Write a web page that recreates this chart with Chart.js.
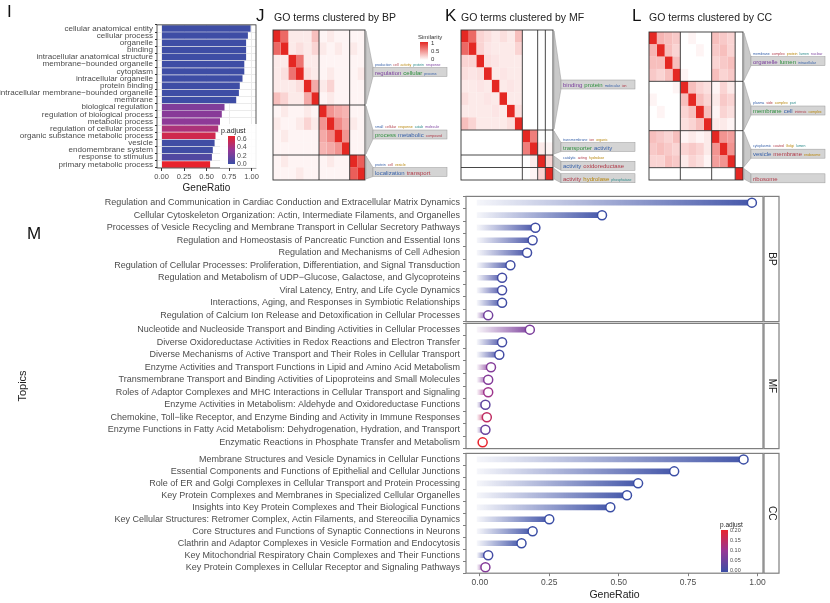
<!DOCTYPE html>
<html>
<head>
<meta charset="utf-8">
<script src="https://cdn.jsdelivr.net/npm/chart.js@4.4.1/dist/chart.umd.min.js"></script>
<style>
  body { margin: 0; background: #fff; font-family: "Liberation Sans", Arial, sans-serif; }
  #wrap { position: relative; width: 830px; height: 603px; overflow: hidden; }
  canvas, .txt { position: absolute; }
  .letter { font-size: 17px; color: #111; }
  .title { font-size: 10.5px; color: #222; }
</style>
</head>
<body>
<div id="wrap">
  <canvas id="cI" style="left:0;top:18px" width="262" height="180"></canvas>
  <canvas id="cJ" style="left:262px;top:22px" width="188" height="162"></canvas>
  <canvas id="cK" style="left:450px;top:22px" width="188" height="162"></canvas>
  <canvas id="cL" style="left:638px;top:22px" width="190" height="162"></canvas>
  <canvas id="cBP" style="left:0;top:188px" width="780" height="142"></canvas>
  <canvas id="cMF" style="left:0;top:315px" width="780" height="142"></canvas>
  <canvas id="cCC" style="left:0;top:445px" width="780" height="158"></canvas>
  <div class="txt letter" style="left:7px;top:2px">I</div>
  <div class="txt letter" style="left:256px;top:6px">J</div>
  <div class="txt letter" style="left:445px;top:6px">K</div>
  <div class="txt letter" style="left:632px;top:6px">L</div>
  <div class="txt letter" style="left:27px;top:224px">M</div>
  <div class="txt title" style="left:274px;top:11px">GO terms clustered by BP</div>
  <div class="txt title" style="left:461px;top:11px">GO terms clustered by MF</div>
  <div class="txt title" style="left:649px;top:11px">GO terms clustered by CC</div>
</div>
<script>
// ---------- panel I data ----------
const goTerms = ["cellular anatomical entity", "cellular process", "organelle", "binding",
  "intracellular anatomical structure", "membrane\u2212bounded organelle", "cytoplasm",
  "intracellular organelle", "protein binding", "intracellular membrane\u2212bounded organelle",
  "membrane", "biological regulation", "regulation of biological process", "metabolic process",
  "regulation of cellular process", "organic substance metabolic process", "vesicle",
  "endomembrane system", "response to stimulus", "primary metabolic process"];
const goRatio = [0.99, 0.96, 0.94, 0.94, 0.94, 0.92, 0.92, 0.90, 0.87, 0.86,
  0.83, 0.70, 0.67, 0.65, 0.63, 0.60, 0.59, 0.57, 0.56, 0.54];
const goPadj = [0.01, 0.01, 0.01, 0.01, 0.01, 0.01, 0.01, 0.01, 0.01, 0.01,
  0.01, 0.25, 0.28, 0.30, 0.42, 0.56, 0.02, 0.02, 0.08, 0.66];

// ---------- panel J/K/L data (similarity matrices, coarse) ----------
const simBP = [
  [1,.7,.1,.1,.1,.3,.05,.1,.05,.05,.05,.05],
  [.7,1,.1,.15,.1,.2,.1,.05,.1,.05,.1,.05],
  [.1,.1,1,.65,.1,.1,.05,.05,.05,.05,.05,.05],
  [.1,.15,.65,1,.15,.1,.05,.1,.05,.05,.05,.1],
  [.1,.1,.1,.15,1,.4,.1,.2,.05,.05,.05,.05],
  [.3,.2,.1,.1,.4,1,.05,.1,.05,.05,.05,.05],
  [.05,.1,.05,.05,.1,.05,1,.5,.4,.35,.05,.05],
  [.1,.05,.05,.1,.2,.1,.5,1,.55,.4,.1,.05],
  [.05,.1,.05,.05,.05,.05,.4,.55,1,.5,.05,.05],
  [.05,.05,.05,.05,.05,.05,.35,.4,.5,1,.05,.05],
  [.05,.1,.05,.05,.05,.05,.05,.1,.05,.05,1,.75],
  [.05,.05,.05,.1,.05,.05,.05,.05,.05,.05,.75,1]];
const simMF = [
  [1,.7,.2,.15,.1,.15,.1,.3,0,0,0,0],
  [.7,1,.2,.12,.1,.1,.1,.2,0,0,0,0],
  [.2,.2,1,.15,.12,.1,.1,.1,0,0,0,0],
  [.15,.12,.15,1,.1,.12,.1,.1,0,0,0,0],
  [.1,.1,.12,.1,1,.1,.12,.1,0,0,0,0],
  [.15,.1,.1,.12,.1,1,.1,.1,0,0,0,0],
  [.1,.1,.1,.1,.12,.1,1,.15,0,0,0,0],
  [.3,.2,.1,.1,.1,.1,.15,1,0,0,0,0],
  [0,0,0,0,0,0,0,0,1,.6,0,0],
  [0,0,0,0,0,0,0,0,.6,1,.1,.05],
  [0,0,0,0,0,0,0,0,0,.1,1,.2],
  [0,0,0,0,0,0,0,0,0,.05,.2,1]];
const simCC = [
  [1,.35,.3,.25,0,.05,0,0,.3,.25,.2,0],
  [.35,1,.3,.2,0,0,.05,0,.25,.3,.2,0],
  [.3,.3,1,.3,0,0,0,0,.2,.25,.3,0],
  [.25,.2,.3,1,.05,0,0,0,.3,.2,.25,0],
  [0,0,0,.05,1,.3,.2,.15,.05,.2,.1,0],
  [.05,0,0,0,.3,1,.3,.2,.1,.25,.2,0],
  [0,.05,0,0,.2,.3,1,.3,.05,.2,.15,0],
  [0,0,0,0,.15,.2,.3,1,.1,.1,.05,0],
  [.3,.25,.2,.3,.05,.1,.05,.1,1,.5,.45,0],
  [.25,.3,.25,.2,.2,.25,.2,.1,.5,1,.5,0],
  [.2,.2,.3,.25,.1,.2,.15,.05,.45,.5,1,0],
  [0,0,0,0,0,0,0,0,0,0,0,1]];
const clustBP = [6, 4, 2];
const clustMF = [8, 2, 1, 1];
const clustCC = [4, 4, 3, 1];
const wordsBP = [
  { small: ["production", "cell", "activity", "protein", "response", "positive"], big: ["regulation", "cellular", "process", "negative"] },
  { small: ["small", "cellular", "response", "catab", "molecule"], big: ["process", "metabolic", "compound", "organic", "biosy"] },
  { small: ["protein", "cell", "vesicle"], big: ["localization", "transport", "establishment", "cellular"] }];
const wordsMF = [
  { small: [], big: ["binding", "protein", "molecular", "ion", "enzyme", "nucleic", "acid"] },
  { small: ["transmembrane", "ion", "organic"], big: ["transporter", "activity"] },
  { small: ["catalytic", "acting", "hydrolase"], big: ["activity", "oxidoreductase", "transferase", "group"] },
  { small: [], big: ["activity", "hydrolase", "phosphatase", "acting"] }];
const wordsCC = [
  { small: ["membrane", "complex", "protein", "lumen", "nuclear"], big: ["organelle", "lumen", "intracellular"] },
  { small: ["plasma", "side", "complex", "part"], big: ["membrane", "cell", "intrinsic", "complex"] },
  { small: ["cytoplasmic", "coated", "Golgi", "lumen"], big: ["vesicle", "membrane", "endosome", "lumen"] },
  { small: [], big: ["ribosome"] }];

// ---------- panel M data ----------
const topicsBP = ["Regulation and Communication in Cardiac Conduction and Extracellular Matrix Dynamics",
  "Cellular Cytoskeleton Organization: Actin, Intermediate Filaments, and Organelles",
  "Processes of Vesicle Recycling and Membrane Transport in Cellular Secretory Pathways",
  "Regulation and Homeostasis of Pancreatic Function and Essential Ions",
  "Regulation and Mechanisms of Cell Adhesion",
  "Regulation of Cellular Processes: Proliferation, Differentiation, and Signal Transduction",
  "Regulation and Metabolism of UDP\u2212Glucose, Galactose, and Glycoproteins",
  "Viral Latency, Entry, and Life Cycle Dynamics",
  "Interactions, Aging, and Responses in Symbiotic Relationships",
  "Regulation of Calcium Ion Release and Detoxification in Cellular Processes"];
const ratioBP = [0.98, 0.44, 0.20, 0.19, 0.17, 0.11, 0.08, 0.08, 0.08, 0.03];
const padjBP = [0.0, 0.0, 0.005, 0.005, 0.005, 0.005, 0.01, 0.01, 0.005, 0.06];
const topicsMF = ["Nucleotide and Nucleoside Transport and Binding Activities in Cellular Processes",
  "Diverse Oxidoreductase Activities in Redox Reactions and Electron Transfer",
  "Diverse Mechanisms of Active Transport and Their Roles in Cellular Transport",
  "Enzyme Activities and Transport Functions in Lipid and Amino Acid Metabolism",
  "Transmembrane Transport and Binding Activities of Lipoproteins and Small Molecules",
  "Roles of Adaptor Complexes and MHC Interactions in Cellular Transport and Signaling",
  "Enzyme Activities in Metabolism: Aldehyde and Oxidoreductase Functions",
  "Chemokine, Toll\u2212like Receptor, and Enzyme Binding and Activity in Immune Responses",
  "Enzyme Functions in Fatty Acid Metabolism: Dehydrogenation, Hydration, and Transport",
  "Enzymatic Reactions in Phosphate Transfer and Metabolism"];
const ratioMF = [0.18, 0.08, 0.07, 0.04, 0.03, 0.03, 0.02, 0.025, 0.02, 0.01];
const padjMF = [0.07, 0.01, 0.01, 0.08, 0.08, 0.11, 0.04, 0.15, 0.05, 0.2];
const topicsCC = ["Membrane Structures and Vesicle Dynamics in Cellular Functions",
  "Essential Components and Functions of Epithelial and Cellular Junctions",
  "Role of ER and Golgi Complexes in Cellular Transport and Protein Processing",
  "Key Protein Complexes and Membranes in Specialized Cellular Organelles",
  "Insights into Key Protein Complexes and Their Biological Functions",
  "Key Cellular Structures: Retromer Complex, Actin Filaments, and Stereocilia Dynamics",
  "Core Structures and Functions of Synaptic Connections in Neurons",
  "Clathrin and Adaptor Complexes in Vesicle Formation and Endocytosis",
  "Key Mitochondrial Respiratory Chain Complexes and Their Functions",
  "Key Protein Complexes in Cellular Receptor and Signaling Pathways"];
const ratioCC = [0.95, 0.70, 0.57, 0.53, 0.47, 0.25, 0.19, 0.15, 0.03, 0.02];
const padjCC = [0.0, 0.0, 0.0, 0.0, 0.0, 0.0, 0.0, 0.0, 0.01, 0.08];

const FONT = '"Liberation Sans", Arial, sans-serif';
const GREY = "#4d4d4d";

// blue -> purple -> red, t in [0,1]
function padjColour(t, alpha) {
  t = Math.max(0, Math.min(1, t));
  const stops = [[59, 78, 165], [150, 55, 150], [232, 35, 45]];
  let a, b, f;
  if (t < 0.5) { a = stops[0]; b = stops[1]; f = t / 0.5; }
  else { a = stops[1]; b = stops[2]; f = (t - 0.5) / 0.5; }
  const c = a.map((v, i) => Math.round(v + (b[i] - v) * f));
  return `rgba(${c[0]},${c[1]},${c[2]},${alpha === undefined ? 1 : alpha})`;
}
function simColour(v) {
  const r = Math.round(255 - (255 - 228) * v);
  const g = Math.round(255 - (255 - 40) * v);
  const b = Math.round(255 - (255 - 35) * v);
  return `rgb(${r},${g},${b})`;
}

Chart.defaults.font.family = FONT;
Chart.defaults.animation = false;
Chart.defaults.plugins.legend.display = false;
Chart.defaults.plugins.tooltip.enabled = false;
Chart.defaults.responsive = false;

// ---------- panel I ----------
const barBorder = {
  id: "barBorder",
  afterDraw(chart) {
    const { ctx, chartArea: a } = chart;
    ctx.save();
    ctx.strokeStyle = "#333";
    ctx.lineWidth = 0.8;
    ctx.strokeRect(a.left, a.top, a.right - a.left, a.bottom - a.top);
    // p.adjust colour bar
    const x = 228, y0 = 118, h = 28;
    const g = ctx.createLinearGradient(0, y0 + h, 0, y0);
    for (let i = 0; i <= 10; i++) g.addColorStop(i / 10, padjColour(i / 10));
    ctx.fillStyle = "rgba(255,255,255,0.9)";
    ctx.fillRect(x - 8, y0 - 12, 38, h + 16);
    ctx.fillStyle = g;
    ctx.fillRect(x, y0, 7, h);
    ctx.fillStyle = "#222";
    ctx.font = "7px " + FONT;
    ctx.fillText("p.adjust", x - 7, y0 - 3);
    ctx.fillStyle = GREY;
    ["0.6", "0.4", "0.2", "0.0"].forEach((t, i) => {
      ctx.fillText(t, x + 9, y0 + 3 + i * (h - 3) / 3 + 2);
    });
    ctx.restore();
  }
};

new Chart(document.getElementById("cI"), {
  type: "bar",
  data: {
    labels: goTerms,
    datasets: [{
      data: goRatio,
      backgroundColor: goPadj.map(p => padjColour(p / 0.66)),
      categoryPercentage: 0.9, barPercentage: 1
    }]
  },
  options: {
    indexAxis: "y",
    layout: { padding: { left: 0, right: 6, top: 4, bottom: 0 } },
    scales: {
      x: {
        min: -0.05, max: 1.05,
        afterBuildTicks: s => { s.ticks = [0, 0.25, 0.5, 0.75, 1].map(v => ({ value: v })); },
        ticks: { font: { size: 7.5 }, color: GREY, callback: v => v.toFixed(2), maxRotation: 0, padding: 1 },
        grid: { color: "#ebebeb", tickColor: "#333", tickLength: 3 },
        border: { display: false },
        title: { display: true, text: "GeneRatio", font: { size: 10 }, color: "#222", padding: { top: 0 } }
      },
      y: {
        afterFit: s => { s.width = 157; },
        ticks: { font: { size: 8.1 }, color: GREY, padding: 2, autoSkip: false },
        grid: { color: "#ebebeb", tickColor: "#333", tickLength: 2 },
        border: { display: false }
      }
    }
  },
  plugins: [barBorder]
});

// ---------- panels J, K, L ----------
const wordColours = ["#7a3f9d", "#2f8f3f", "#355fa8", "#b03a48", "#b8860b", "#2b8a8a"];

function clusterPlugin(sizes, words, withLegend) {
  return {
    id: "cluster",
    afterDraw(chart) {
      const { ctx, chartArea: a } = chart;
      const n = sizes.reduce((s, v) => s + v, 0);
      const xs = chart.scales.x;
      const rowH = (a.bottom - a.top) / n;
      ctx.save();
      ctx.strokeStyle = "#333";
      ctx.lineWidth = 0.9;
      ctx.strokeRect(a.left, a.top, a.right - a.left, a.bottom - a.top);
      let acc = 0;
      sizes.forEach(sz => {
        acc += sz;
        if (acc < n) {
          const px = xs.getPixelForValue(acc);
          const py = a.top + acc * rowH;
          ctx.beginPath();
          ctx.moveTo(px, a.top); ctx.lineTo(px, a.bottom);
          ctx.moveTo(a.left, py); ctx.lineTo(a.right, py);
          ctx.stroke();
        }
      });
      // word-cloud boxes
      acc = 0;
      const bx0 = a.right + 8, bx1 = a.right + 82;
      sizes.forEach((sz, k) => {
        const top = a.top + acc * rowH, bot = a.top + (acc + sz) * rowH;
        acc += sz;
        const cy = (top + bot) / 2 + 4;
        ctx.fillStyle = "#c9c9c9";
        ctx.strokeStyle = "#999";
        ctx.lineWidth = 0.5;
        ctx.beginPath();
        ctx.moveTo(a.right + 1, top + 1);
        ctx.lineTo(a.right + 1, bot - 1);
        ctx.lineTo(bx0, cy + 5);
        ctx.lineTo(bx0, cy - 4);
        ctx.closePath();
        ctx.fill(); ctx.stroke();
        ctx.fillStyle = "#d4d4d4";
        ctx.fillRect(bx0, cy - 4, bx1 - bx0, 9);
        ctx.strokeRect(bx0, cy - 4, bx1 - bx0, 9);
        const w = words[k];
        let x = bx0 + 2;
        ctx.font = "3.5px " + FONT;
        w.small.forEach((t, i) => {
          ctx.fillStyle = wordColours[(i + 2) % wordColours.length];
          if (x < bx1 - 6) ctx.fillText(t, x, cy - 6);
          x += ctx.measureText(t).width + 2;
        });
        x = bx0 + 2;
        w.big.forEach((t, i) => {
          ctx.font = (i < 2 ? "6px " : "3.5px ") + FONT;
          ctx.fillStyle = wordColours[(i + k) % wordColours.length];
          const tw = ctx.measureText(t).width;
          if (x + tw < bx1 - 1) ctx.fillText(t, x, cy + 3);
          x += tw + 2;
        });
      });
      if (withLegend) {
        const lx = a.right + 55, ly = a.top + 12, lh = 18;
        const g = ctx.createLinearGradient(0, ly, 0, ly + lh);
        g.addColorStop(0, simColour(1)); g.addColorStop(1, simColour(0));
        ctx.fillStyle = g;
        ctx.fillRect(lx, ly, 8, lh);
        ctx.fillStyle = "#333";
        ctx.font = "6px " + FONT;
        ctx.fillText("Similarity", lx - 2, ly - 3);
        ctx.fillText("1", lx + 11, ly + 3);
        ctx.fillText("0.5", lx + 11, ly + lh / 2 + 2);
        ctx.fillText("0", lx + 11, ly + lh + 1);
      }
      ctx.restore();
    }
  };
}

function heatmap(id, mat, sizes, words, withLegend, top) {
  const n = mat.length;
  const rows = mat.map((_, i) => "r" + i);
  const datasets = mat[0].map((_, j) => ({
    data: rows.map(() => 1),
    backgroundColor: mat.map(row => simColour(row[j])),
    borderWidth: 0,
    categoryPercentage: 1, barPercentage: 1.02
  }));
  new Chart(document.getElementById(id), {
    type: "bar",
    data: { labels: rows, datasets },
    options: {
      indexAxis: "y",
      layout: { padding: { left: 11, right: 85, top: top, bottom: 4 } },
      scales: {
        x: { stacked: true, min: 0, max: n, display: false },
        y: { stacked: true, display: false }
      }
    },
    plugins: [clusterPlugin(sizes, words, withLegend)]
  });
}
heatmap("cJ", simBP, clustBP, wordsBP, true, 8);
heatmap("cK", simMF, clustMF, wordsMF, false, 8);
heatmap("cL", simCC, clustCC, wordsCC, false, 10);

// ---------- panel M ----------
function facetPlugin(label, showTopics) {
  return {
    id: "facet",
    afterDraw(chart) {
      const { ctx, chartArea: a } = chart;
      ctx.save();
      ctx.strokeStyle = "#7f7f7f";
      ctx.lineWidth = 1.2;
      ctx.strokeRect(a.left, a.top, a.right - a.left, a.bottom - a.top);
      ctx.fillStyle = "#fff";
      ctx.fillRect(a.right + 1, a.top, 15, a.bottom - a.top);
      ctx.strokeRect(a.right + 1, a.top, 15, a.bottom - a.top);
      ctx.translate(a.right + 9, (a.top + a.bottom) / 2);
      ctx.rotate(Math.PI / 2);
      ctx.fillStyle = "#222";
      ctx.font = "10px " + FONT;
      ctx.textAlign = "center";
      ctx.textBaseline = "middle";
      ctx.fillText(label, 0, 0);
      ctx.restore();
      if (showTopics) {
        ctx.save();
        ctx.translate(26, (a.top + a.bottom) / 2);
        ctx.rotate(-Math.PI / 2);
        ctx.fillStyle = "#222";
        ctx.font = "11px " + FONT;
        ctx.textAlign = "center";
        ctx.fillText("Topics", 0, 0);
        ctx.restore();
      }
    }
  };
}

const pColourBar = {
  id: "pColourBar",
  afterDraw(chart) {
    const { ctx } = chart;
    const x = 721, y0 = 85, h = 42;
    ctx.save();
    const g = ctx.createLinearGradient(0, y0 + h, 0, y0);
    for (let i = 0; i <= 10; i++) g.addColorStop(i / 10, padjColour(i / 10));
    ctx.fillStyle = g;
    ctx.fillRect(x, y0, 7, h);
    ctx.fillStyle = "#222";
    ctx.font = "6.5px " + FONT;
    ctx.fillText("p.adjust", x - 1, y0 - 3);
    ctx.fillStyle = GREY;
    ctx.font = "5.5px " + FONT;
    ["0.20", "0.15", "0.10", "0.05", "0.00"].forEach((t, i) => {
      ctx.fillText(t, x + 9, y0 + 2 + i * (h - 2) / 4);
    });
    ctx.restore();
  }
};

function lollipop(id, topics, ratios, padj, label, bottom) {
  const cols = padj.map(p => padjColour(p / 0.2));
  const plugins = [facetPlugin(label, label === "MF")];
  if (bottom) plugins.push(pColourBar);
  new Chart(document.getElementById(id), {
    data: {
      labels: topics,
      datasets: [{
        type: "bar",
        order: 2,
        data: ratios.map(v => [-0.01, v]),
        backgroundColor: c => {
          const a = c.chart.chartArea;
          if (!a) return cols[c.dataIndex];
          const xs = c.chart.scales.x;
          const x0 = xs.getPixelForValue(-0.01);
          const x1 = xs.getPixelForValue(ratios[c.dataIndex]);
          const g = c.chart.ctx.createLinearGradient(x0, 0, Math.max(x1, x0 + 1), 0);
          g.addColorStop(0, padjColour(padj[c.dataIndex] / 0.2, 0.05));
          g.addColorStop(1, padjColour(padj[c.dataIndex] / 0.2, 0.95));
          return g;
        },
        barThickness: 5
      }, {
        type: "line",
        order: 1,
        data: ratios.map((v, i) => ({ x: v, y: topics[i] })),
        showLine: false,
        pointRadius: 4.5,
        pointBorderWidth: 1.5,
        pointBackgroundColor: "#fff",
        pointBorderColor: cols
      }]
    },
    options: {
      indexAxis: "y",
      layout: { padding: { left: 0, right: 17, top: 2, bottom: 2 } },
      scales: {
        x: {
          min: -0.05, max: 1.02,
          display: bottom,
          afterBuildTicks: s => { s.ticks = [0, 0.25, 0.5, 0.75, 1].map(v => ({ value: v })); },
          ticks: { font: { size: 8.5 }, color: GREY, callback: v => v.toFixed(2), maxRotation: 0, padding: 1 },
          grid: { drawOnChartArea: false, color: "#7f7f7f", tickLength: 3 },
          border: { display: false },
          title: { display: true, text: "GeneRatio", font: { size: 10.5 }, color: "#222", padding: { top: 0, bottom: 0 } }
        },
        y: {
          afterFit: s => { s.width = 466; },
          ticks: { font: { size: 9 }, color: GREY, padding: 3, autoSkip: false },
          grid: { drawOnChartArea: false, color: "#7f7f7f", tickLength: 3 },
          border: { display: false }
        }
      }
    },
    plugins
  });
}
lollipop("cBP", topicsBP, ratioBP, padjBP, "BP", false);
lollipop("cMF", topicsMF, ratioMF, padjMF, "MF", false);
lollipop("cCC", topicsCC, ratioCC, padjCC, "CC", true);
</script>
</body>
</html>
